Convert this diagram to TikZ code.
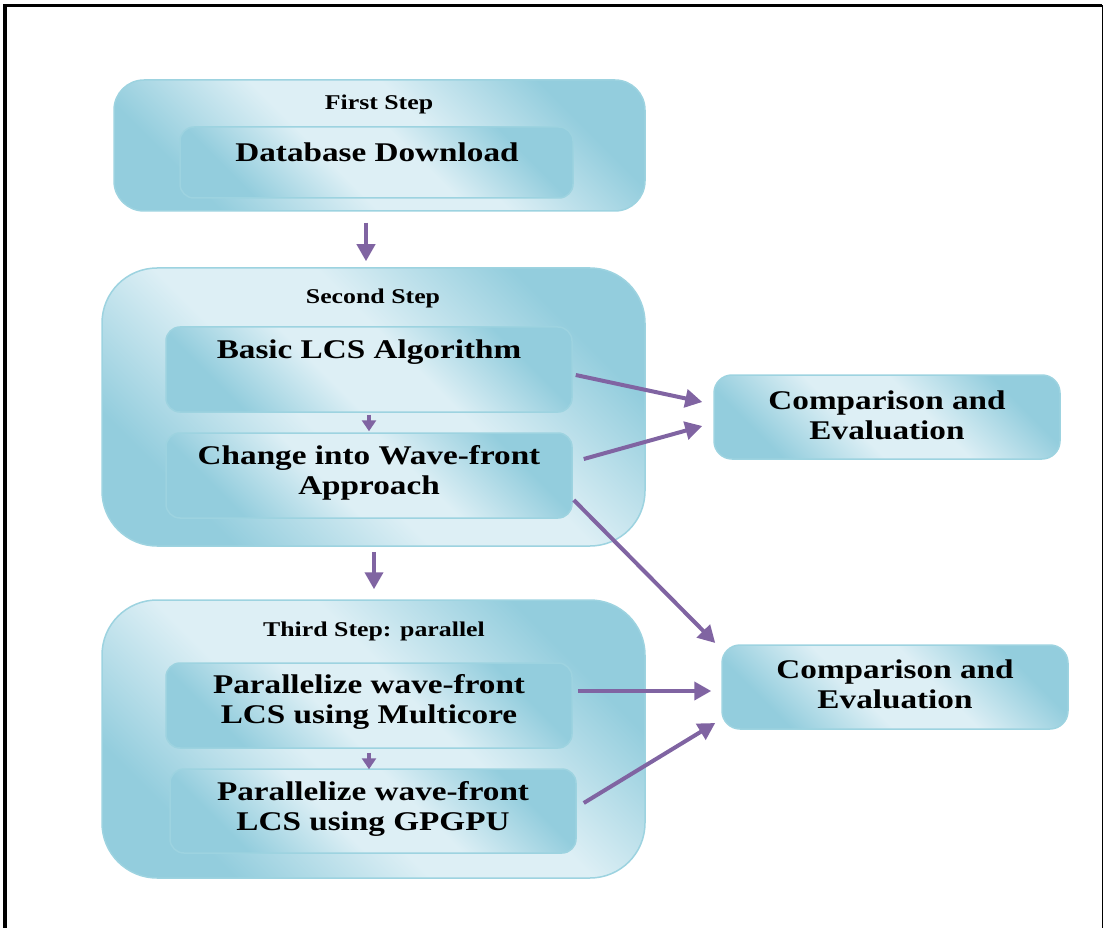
\documentclass[tikz,border=0pt]{standalone}
\usepackage{fontspec}
\setmainfont{Liberation Serif}[FakeStretch=1.23]
\usetikzlibrary{arrows.meta,calc}
\definecolor{aq}{HTML}{93CDDD}
\definecolor{lt}{HTML}{DDEFF5}
\definecolor{bd}{HTML}{9DD3E0}
\definecolor{pu}{HTML}{8064A2}
\pgfdeclareverticalshading{boxsh}{100bp}{color(0bp)=(aq); color(26bp)=(aq); color(43bp)=(lt); color(57bp)=(lt); color(74bp)=(aq); color(100bp)=(aq)}
\begin{document}
\begin{tikzpicture}[x=1pt,y=-1pt,
  box/.style={draw=bd, line width=1.5pt, shade, shading=boxsh, shading angle=-45, inner sep=0pt, rectangle},
  bigouter/.style={box, rounded corners=55pt, minimum width=543pt, minimum height=278pt},
  inbox/.style={box, rounded corners=14pt, minimum width=406pt, minimum height=85pt},
  cmpbox/.style={box, rounded corners=18pt, minimum width=346pt, minimum height=84pt},
  lbl/.style={font=\bfseries\fontsize{21}{24}\selectfont, inner sep=0pt},
  big/.style={font=\bfseries\fontsize{27}{30}\selectfont, align=center, inner sep=0pt},
  arr/.style={draw=pu, line width=4pt, -{Triangle[length=17pt,width=18pt]}},
  sarr/.style={draw=pu, line width=3.5pt, -{Triangle[length=11pt,width=14pt]}}
]
\useasboundingbox (0,0) rectangle (1104,928);
% frame
\draw[line width=3.5pt] (5,928) -- (5,5.5) -- (1102,5.5);
\draw[line width=1pt] (1102.5,5.5) -- (1102.5,928);

% boxes
\node[box, rounded corners=30pt, minimum width=531pt, minimum height=131pt] (s1) at (379.5,145.5) {};
\node[box, rounded corners=14pt, minimum width=393pt, minimum height=71pt] (d1) at (376.5,162.5) {};
\node[bigouter] (s2) at (373.5,407) {};
\node[inbox] (b1) at (369,369.5) {};
\node[inbox] (b2) at (369,475.5) {};
\node[bigouter] (s3) at (373.5,739) {};
\node[inbox] (p1) at (369,705.5) {};
\node[inbox, minimum height=84pt] (p2) at (373,811) {};
\node[cmpbox] (c1) at (887,417) {};
\node[cmpbox] (c2) at (895,687) {};

% texts
\node[lbl] (t1) at (379,104) {First Step};
\node[big] (td) at (377,152) {Database Download};
\node[lbl] (t2) at (373,298) {Second Step};
\node[big] (tb1) at (369,352) {Basic LCS Algorithm};
\node[big] (tb2) at (369,473) {Change into Wave-front\\Approach};
\node[lbl] (t3) at (374,631) {Third Step: parallel};
\node[big] (tp1) at (369,702) {Parallelize wave-front\\LCS using Multicore};
\node[big] (tp2) at (373,809) {Parallelize wave-front\\LCS using GPGPU};
\node[big] (tc1) at (887,415) {Comparison and\\Evaluation};
\node[big] (tc2) at (895,684) {Comparison and\\Evaluation};

% arrows
\draw[arr] ($(s1.south)+(-13.5,11)$) -- ($(s2.north)+(-7.5,-6)$);
\draw[sarr] ($(b1.south)+(0,2)$) -- ($(b2.north)+(0,-1)$);
\draw[arr] ($(s2.south)+(0.5,5)$) -- ($(s3.north)+(0.5,-10)$);
\draw[sarr] ($(p1.south)+(0,4)$) -- ($(p2.north)+(-4,1)$);
\draw[arr] ($(b1.east)+(3,5.5)$) -- ($(c1.west)+(-11,-15)$);
\draw[arr] ($(b2.east)+(11,-16.5)$) -- ($(c1.west)+(-11,9)$);
\draw[arr] ($(b2.east)+(1,24.5)$) -- ($(c2.west)+(-6,-44)$);
\draw[arr] ($(p1.east)+(5,-14.5)$) -- ($(c2.west)+(-10,4)$);
\draw[arr] ($(p2.east)+(7,-8)$) -- ($(c2.west)+(-6,36)$);
\end{tikzpicture}
\end{document}
